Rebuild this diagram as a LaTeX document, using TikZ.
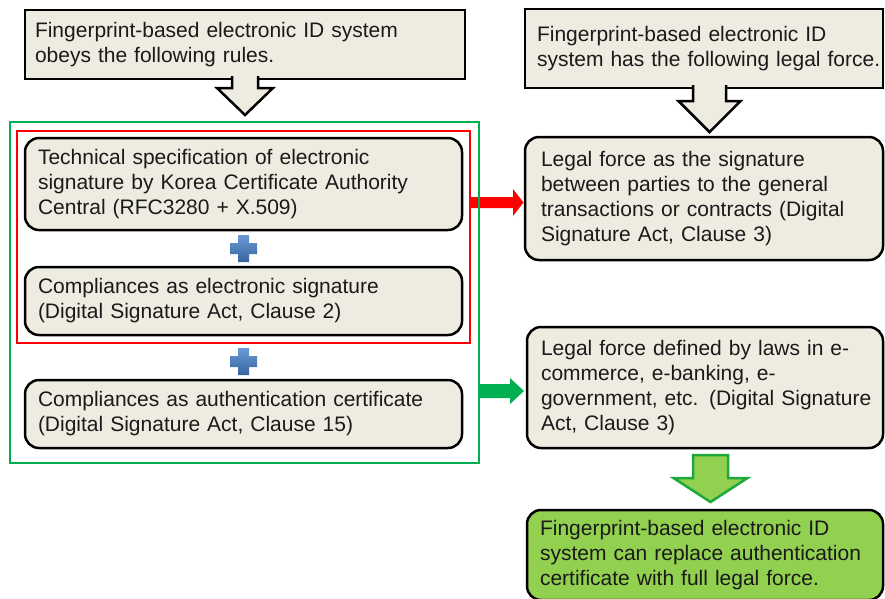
\documentclass[tikz,border=0pt]{standalone}
\usepackage{fontspec}
\setmainfont{Liberation Sans}
\usetikzlibrary{calc}
\definecolor{beige}{HTML}{EEECE1}
\definecolor{grn}{HTML}{00B050}
\definecolor{lgrn}{HTML}{92D050}
\definecolor{dgrn}{HTML}{1FA83C}
\definecolor{txt}{HTML}{1A1A1A}
\definecolor{plustop}{HTML}{6A9AD6}
\definecolor{plusbot}{HTML}{36649E}
\newcommand{\mylines}[1]{\begin{tabular}{@{}l@{}}#1\end{tabular}}
\tikzset{
  sqbox/.style={draw=black, line width=2.5pt, fill=beige, text=txt, align=left,
    font=\fontsize{21}{25}\selectfont, inner ysep=0pt, outer sep=0pt},
  rbox/.style={sqbox, rounded corners=14pt},
  frame/.style={line width=2pt, inner sep=0pt, outer sep=0pt},
  hollow/.style={fill=beige, draw=black, line width=2.5pt, line join=miter},
  pics/downarr/.style n args={5}{code={
    \path[pic actions] (-#1,#5) -- (-#1,#3) -- (-#2,#3) -- (0,#3+#4) -- (#2,#3) -- (#1,#3) -- (#1,#5);}},
  pics/downarrc/.style n args={4}{code={
    \path[pic actions] (-#1,0) -- (-#1,#3) -- (-#2,#3) -- (0,#3+#4) -- (#2,#3) -- (#1,#3) -- (#1,0) -- cycle;}},
  pics/rightarr/.style n args={4}{code={
    \path[pic actions] (0,-#1) -- (#3,-#1) -- (#3,-#2) -- (#3+#4,0) -- (#3,#2) -- (#3,#1) -- (0,#1) -- cycle;}},
  pics/plussign/.style={code={
    \path[pic actions] (-5.5,-13.5) -- (5.5,-13.5) -- (5.5,-5.5) -- (13.5,-5.5) -- (13.5,5.5)
      -- (5.5,5.5) -- (5.5,13.5) -- (-5.5,13.5) -- (-5.5,5.5) -- (-13.5,5.5) -- (-13.5,-5.5)
      -- (-5.5,-5.5) -- cycle;}},
}
\begin{document}
\begin{tikzpicture}[x=1pt,y=-1pt]
\clip (0,0) rectangle (885,598);
\fill[white] (0,0) rectangle (885,598);

% left column
\node[sqbox, minimum width=440pt, minimum height=69pt, text width=420pt, inner xsep=10pt] (A) at (245,44.5)
  {\mylines{Fingerprint-based electronic ID system\\obeys the following rules.}};
\node[rbox, minimum width=437pt, minimum height=92pt, text width=411pt, inner xsep=13pt] (B) at (243.5,184)
  {\mylines{Technical specification of electronic\\signature by Korea Certificate Authority\\Central (RFC3280 + X.509)}};
\node[rbox, minimum width=437pt, minimum height=68pt, text width=411pt, inner xsep=13pt] (C) at (243.5,301)
  {\mylines{Compliances as electronic signature\\(Digital Signature Act, Clause 2)}};
\node[rbox, minimum width=437pt, minimum height=68pt, text width=411pt, inner xsep=13pt] (D) at (243.5,414)
  {\mylines{Compliances as authentication certificate\\(Digital Signature Act, Clause 15)}};

% right column
\node[sqbox, minimum width=358pt, minimum height=79pt, text width=334pt, inner xsep=12pt] (E) at (704,48.5)
  {\mylines{Fingerprint-based electronic ID\\system has the following legal force.}};
\node[rbox, minimum width=358pt, minimum height=123pt, text width=326pt, inner xsep=16pt] (F) at (704,198.5)
  {\mylines{Legal force as the signature\\between parties to the general\\transactions or contracts (Digital\\Signature Act, Clause 3)}};
\node[rbox, minimum width=356pt, minimum height=121pt, text width=328pt, inner xsep=14pt] (G) at (705,387.5)
  {\mylines{Legal force defined by laws in e-\\commerce, e-banking, e-\\government, etc. (Digital Signature\\Act, Clause 3)}};
\node[rbox, fill=lgrn, minimum width=356pt, minimum height=90pt, text width=330pt, inner xsep=13pt] (H) at (705,555)
  {\mylines{Fingerprint-based electronic ID\\system can replace authentication\\certificate with full legal force.}};

% red frame and arrow
\node[frame, draw=red, minimum width=453pt, minimum height=212pt] (redbox) at (243.5,237) {};
\pic[fill=red] at ([yshift=34.5pt]redbox.east) {rightarr={5.5}{13.5}{43}{10.5}};

% green frame and arrow
\node[frame, draw=grn, minimum width=469pt, minimum height=341pt] (greenbox) at (244.5,292.5) {};
\pic[fill=grn] at ([yshift=-98.5pt]greenbox.east) {rightarr={7}{13}{31}{14}};

% plus signs
\pic[top color=plustop, bottom color=plusbot] at ($(B.south)!0.5!(C.north)$) {plussign};
\pic[top color=plustop, bottom color=plusbot] at ($(redbox.south)!0.5!(D.north)$) {plussign};

% down arrows
\pic[hollow] at (A.south) {downarr={13}{28}{9}{27}{-3}};
\pic[hollow] at ([xshift=5.5pt]E.south) {downarr={16.5}{31}{13}{31}{-3}};
\pic[fill=lgrn, draw=dgrn, line width=2.5pt, line join=miter] at ([xshift=5.5pt,yshift=-7pt]G.south) {downarrc={17.5}{37}{23}{24}};
\end{tikzpicture}
\end{document}
